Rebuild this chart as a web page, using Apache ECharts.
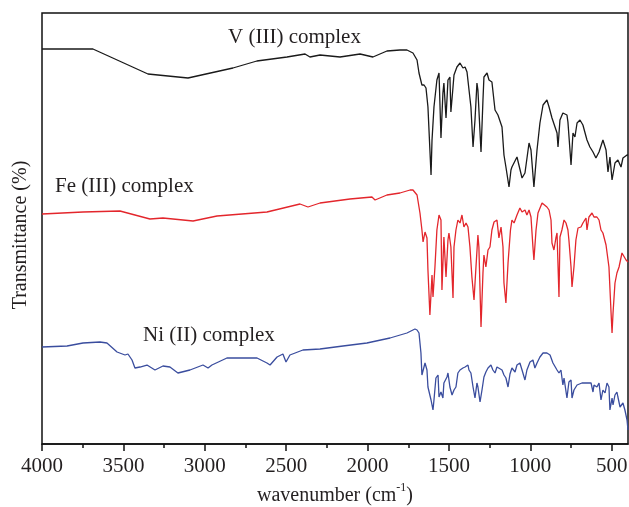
<!DOCTYPE html>
<html><head><meta charset="utf-8">
<script src="https://cdn.jsdelivr.net/npm/echarts@6/dist/echarts.min.js"></script>
<style>html,body{margin:0;padding:0;background:#fff}#c{width:629px;height:507px}</style>
</head><body><div id="c"></div>
<script>
const xTicks = [4000,3500,3000,2500,2000,1500,1000,500];
const xMinorTicks = [3750,3250,2750,2250,1750,1250,750];
const seriesNames = ['V (III) complex','Fe (III) complex','Ni (II) complex'];

const vWave = [4000,3850,3687,3349,3103,2827,2680,2495,2384,2354,2292,2169,2046,1967,1881,1801,1758,1721,1696,1684,1666,1653,1641,1629,1610,1604,1592,1574,1561,1549,1537,1531,1518,1506,1494,1488,1475,1469,1451,1432,1414,1401,1389,1377,1365,1352,1340,1328,1322,1303,1291,1285,1266,1254,1236,1217,1199,1174,1162,1150,1131,1119,1113,1082,1051,1033,1008,996,978,959,941,922,898,885,867,855,836,830,818,800,775,769,750,738,726,713,695,677,652,634,615,597,578,554,535,523,511,498,480,462,443,431,406,400];
const vT = [395,395,395,370,366,376,383,387,390,387,389,387,390,387,393,394,394,391,384,371,359,359,356,337,269,304,337,364,371,306,351,361,326,364,367,332,357,369,377,381,376,377,372,371,337,297,324,361,354,292,344,367,371,364,362,334,329,317,289,277,257,274,277,287,266,271,301,294,257,294,321,339,344,337,326,324,311,297,324,331,329,322,279,311,307,321,324,319,304,297,292,286,292,304,294,272,287,264,281,284,277,286,289,289];

const feWave = [4000,3748,3521,3337,3257,3072,2925,2618,2415,2366,2292,2108,1973,1954,1881,1801,1739,1721,1696,1678,1666,1659,1647,1635,1629,1617,1604,1598,1586,1574,1561,1549,1543,1531,1518,1506,1500,1488,1475,1469,1457,1445,1432,1420,1408,1395,1383,1371,1359,1346,1334,1322,1316,1303,1291,1285,1273,1260,1248,1236,1223,1205,1193,1180,1168,1162,1150,1137,1122,1113,1100,1082,1064,1051,1033,1021,1008,996,984,978,965,953,928,916,898,885,873,867,855,843,836,824,818,806,793,781,769,763,750,744,732,720,707,689,677,658,652,640,621,609,591,578,566,554,535,523,517,504,498,492,480,468,455,437,425,412,400];
const feT = [230,232,233,225,226,223,228,232,240,237,241,245,247,244,249,251,254,254,249,231,214,202,212,206,174,129,169,147,177,214,229,224,154,207,167,204,211,197,146,197,214,224,221,229,217,221,217,197,167,144,177,209,197,117,171,189,177,194,197,214,222,224,206,217,197,161,141,181,214,224,221,229,236,232,234,229,234,227,197,184,214,231,241,241,237,234,224,201,194,206,211,147,207,214,224,221,214,204,177,157,177,204,216,217,221,226,214,227,231,227,227,224,214,211,199,197,177,131,111,131,161,171,177,191,189,184,182];

const niWave = [4000,3846,3748,3644,3601,3539,3490,3472,3447,3429,3398,3355,3306,3257,3214,3165,3091,3011,2980,2956,2864,2679,2618,2599,2556,2520,2501,2477,2397,2292,2151,2004,1862,1758,1709,1696,1684,1672,1666,1659,1647,1635,1629,1610,1598,1592,1580,1567,1561,1549,1537,1531,1512,1506,1494,1481,1469,1457,1445,1432,1414,1401,1383,1377,1365,1352,1340,1328,1322,1309,1297,1285,1273,1260,1242,1230,1217,1205,1193,1174,1162,1150,1137,1125,1113,1094,1082,1064,1051,1033,1021,1002,984,972,959,941,922,898,879,861,836,824,812,800,793,781,775,763,750,744,732,713,683,646,627,615,609,591,578,566,554,541,529,517,511,498,492,480,468,462,449,437,431,419,406,400];
const niT = [97,98,101,102,101,92,89,90,84,76,77,79,74,78,77,71,74,79,76,79,86,86,81,79,87,90,82,89,94,95,98,101,106,111,115,114,111,91,69,67,81,74,57,44,34,44,66,69,47,52,46,61,67,71,57,49,54,57,71,74,76,77,79,74,71,57,46,61,57,42,54,67,72,76,79,74,71,77,79,74,69,66,57,70,76,72,79,81,74,64,74,82,84,76,81,87,91,91,89,81,74,71,74,59,66,67,46,62,64,46,54,59,61,61,61,52,59,57,61,44,54,51,61,57,34,46,39,49,52,47,37,36,41,34,24,14];

function pairs(w, t) {
  const n = Math.min(w.length, t.length), out = [];
  for (let i = 0; i < n; i++) out.push([w[i], t[i]]);
  return out;
}

const F = '"Liberation Serif", "Times New Roman", serif';
const TXT = '#231f20';
const chart = echarts.init(document.getElementById('c'), null, {renderer: 'canvas'});

function line(name, data, color) {
  return {
    name: name, type: 'line', xAxisIndex: 0, yAxisIndex: 0,
    data: data, showSymbol: false, symbol: 'none', animation: false,
    lineStyle: {color: color, width: 1.3}, itemStyle: {color: color}
  };
}

chart.setOption({
  animation: false,
  backgroundColor: '#fff',
  grid: {left: 42, right: 1, top: 13, bottom: 63, show: true, borderColor: '#111', borderWidth: 1.5, containLabel: false, outerBoundsMode: 'none'},
  xAxis: [{
    type: 'value', min: 400, max: 4000, inverse: true, position: 'bottom',
    axisLine: {show: true, lineStyle: {color: '#111', width: 1.5}},
    axisTick: {show: true, customValues: xTicks, length: 7, lineStyle: {color: '#111', width: 1.5}},
    axisLabel: {customValues: xTicks, formatter: function (v) { return String(v); }, fontFamily: F, fontSize: 21, color: TXT, margin: 12},
    splitLine: {show: false},
    name: '{n|wavenumber (cm}{s|-1}{n|)}', nameLocation: 'middle', nameGap: 38,
    nameTextStyle: {
      rich: {
        n: {fontFamily: F, fontSize: 20, color: TXT, lineHeight: 24, verticalAlign: 'bottom'},
        s: {fontFamily: F, fontSize: 12, color: TXT, lineHeight: 13, verticalAlign: 'top'}
      }
    }
  }, {
    type: 'value', min: 400, max: 4000, inverse: true, position: 'bottom',
    axisLine: {show: false},
    axisTick: {show: true, customValues: xMinorTicks, length: 4, lineStyle: {color: '#111', width: 1.5}},
    axisLabel: {show: false}, splitLine: {show: false}
  }],
  yAxis: {
    type: 'value', min: 0, max: 431,
    axisLine: {show: false}, axisTick: {show: false}, axisLabel: {show: false}, splitLine: {show: false}
  },
  series: [
    line(seriesNames[0], pairs(vWave, vT), '#1a1a1a'),
    line(seriesNames[1], pairs(feWave, feT), '#e3262c'),
    line(seriesNames[2], pairs(niWave, niT), '#3a4d9e')
  ],
  graphic: [
    {type: 'text', x: 228, y: 37, style: {text: seriesNames[0], fontFamily: F, fontSize: 21, fill: TXT, verticalAlign: 'middle'}},
    {type: 'text', x: 55, y: 186, style: {text: seriesNames[1], fontFamily: F, fontSize: 21, fill: TXT, verticalAlign: 'middle'}},
    {type: 'text', x: 143, y: 335, style: {text: seriesNames[2], fontFamily: F, fontSize: 21, fill: TXT, verticalAlign: 'middle'}},
    {type: 'text', x: 21, y: 235, rotation: Math.PI / 2, style: {text: 'Transmittance (%)', fontFamily: F, fontSize: 20, fill: TXT, align: 'center', verticalAlign: 'middle'}}
  ]
});
</script>
</body></html>
